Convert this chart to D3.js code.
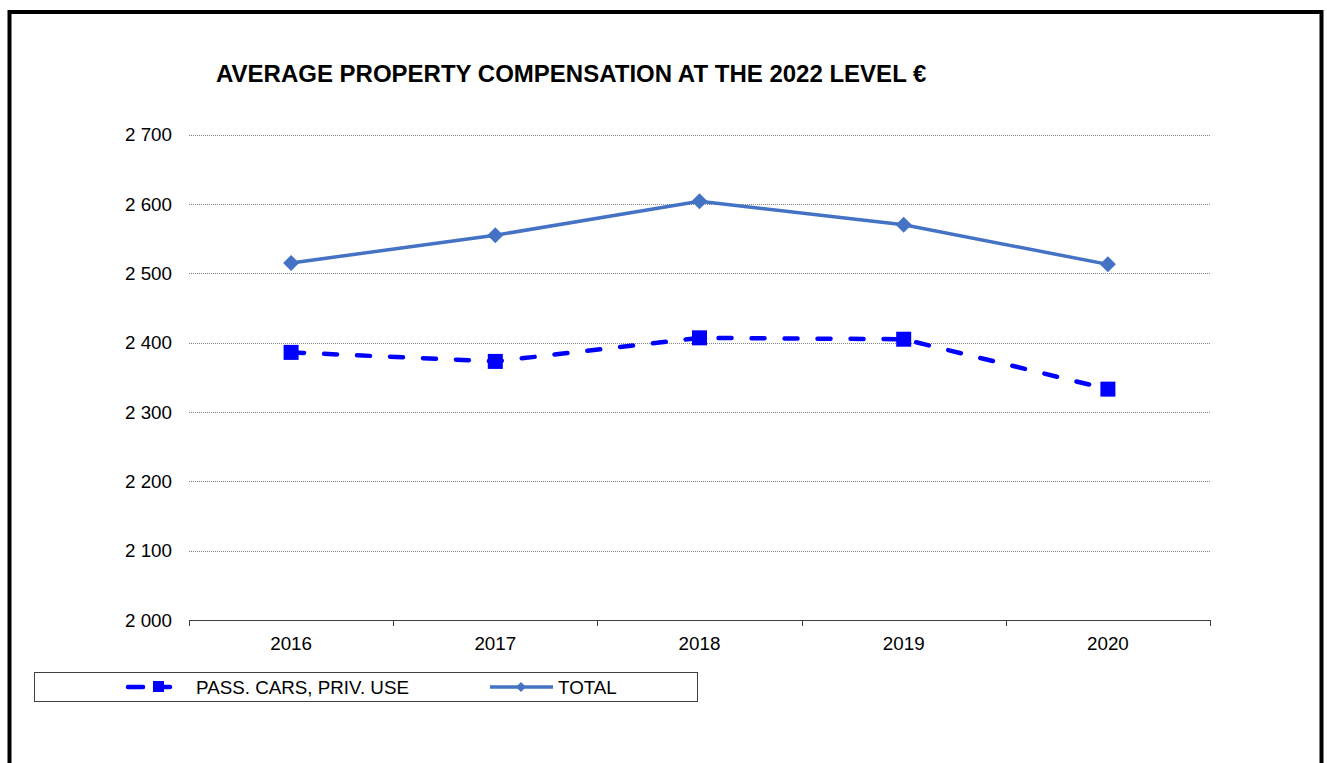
<!DOCTYPE html>
<html>
<head>
<meta charset="utf-8">
<script src="https://cdn.jsdelivr.net/npm/d3@7"></script>
<style>
  body { margin: 0; background: #fff; }
  svg { font-family: Arial, "Liberation Sans", sans-serif; }
</style>
</head>
<body>
<script>
// data
var years = ["2016", "2017", "2018", "2019", "2020"];
var passCars = [2386, 2373, 2407, 2405, 2333];
var total = [2515, 2555, 2604, 2570, 2513];
var yTicks = [2000, 2100, 2200, 2300, 2400, 2500, 2600, 2700];

var width = 1327, height = 763;
var fontSize = 18.8;

var svg = d3.select("body").append("svg")
  .attr("width", width)
  .attr("height", height);

// cornice esterna
svg.append("rect")
  .attr("x", 9.5).attr("y", 12)
  .attr("width", 1312).attr("height", 800)
  .attr("fill", "none")
  .attr("stroke", "#000")
  .attr("stroke-width", 4);

// titolo
svg.append("text")
  .attr("x", 216).attr("y", 82)
  .attr("font-size", 24)
  .attr("font-weight", "bold")
  .text("AVERAGE PROPERTY COMPENSATION AT THE 2022 LEVEL €");

var x = d3.scaleBand().domain(years).range([189, 1210]);
var y = d3.scaleLinear().domain([2000, 2700]).range([620, 134.7]);

// griglia orizzontale tratteggiata
svg.append("g").selectAll("line")
  .data(yTicks.filter(d => d > 2000))
  .enter().append("line")
  .attr("x1", 189).attr("x2", 1210)
  .attr("y1", d => Math.round(y(d)) + 0.5)
  .attr("y2", d => Math.round(y(d)) + 0.5)
  .attr("stroke", "#808080")
  .attr("stroke-width", 1)
  .attr("stroke-dasharray", "1,1");

// etichette asse y
svg.append("g").selectAll("text")
  .data(yTicks)
  .enter().append("text")
  .attr("x", 172)
  .attr("y", d => y(d))
  .attr("dy", "0.36em")
  .attr("text-anchor", "end")
  .attr("font-size", fontSize)
  .text(d => d3.format(",")(d).replace(",", " "));

// asse x
var xAxis = svg.append("g");
xAxis.append("line")
  .attr("x1", 189).attr("x2", 1210)
  .attr("y1", 620.5).attr("y2", 620.5)
  .attr("stroke", "#404040");
var bounds = years.map(d => x(d)).concat([x.range()[1]]);
xAxis.selectAll(".tick")
  .data(bounds)
  .enter().append("line")
  .attr("x1", d => Math.round(d) + 0.5)
  .attr("x2", d => Math.round(d) + 0.5)
  .attr("y1", 620).attr("y2", 626)
  .attr("stroke", "#404040");
xAxis.selectAll("text")
  .data(years)
  .enter().append("text")
  .attr("x", d => x(d) + x.bandwidth() / 2)
  .attr("y", 650)
  .attr("text-anchor", "middle")
  .attr("font-size", fontSize)
  .text(d => d);

var cx = (d, i) => x(years[i]) + x.bandwidth() / 2;
var line = d3.line().x(cx).y(d => y(d));

// serie TOTAL
svg.append("path")
  .datum(total)
  .attr("d", line)
  .attr("fill", "none")
  .attr("stroke", "#4472C4")
  .attr("stroke-width", 3.5);
svg.append("g").selectAll("path")
  .data(total)
  .enter().append("path")
  .attr("d", "M0,-8L8,0L0,8L-8,0Z")
  .attr("transform", (d, i) => "translate(" + cx(d, i) + "," + y(d) + ")")
  .attr("fill", "#4472C4");

// serie PASS. CARS
svg.append("path")
  .datum(passCars)
  .attr("d", line)
  .attr("fill", "none")
  .attr("stroke", "#0000FF")
  .attr("stroke-width", 4.5)
  .attr("stroke-linecap", "round")
  .attr("stroke-dasharray", "13,20");
svg.append("g").selectAll("rect")
  .data(passCars)
  .enter().append("rect")
  .attr("x", (d, i) => cx(d, i) - 7.5)
  .attr("y", d => y(d) - 7.5)
  .attr("width", 15).attr("height", 15)
  .attr("fill", "#0000FF");

// legenda
var legend = svg.append("g");
legend.append("rect")
  .attr("x", 34.5).attr("y", 672.5)
  .attr("width", 663).attr("height", 29)
  .attr("fill", "#fff")
  .attr("stroke", "#404040");
legend.append("line")
  .attr("x1", 128).attr("x2", 178)
  .attr("y1", 687).attr("y2", 687)
  .attr("stroke", "#0000FF")
  .attr("stroke-width", 4.5)
  .attr("stroke-linecap", "round")
  .attr("stroke-dasharray", "15,12");
legend.append("rect")
  .attr("x", 153).attr("y", 681)
  .attr("width", 11).attr("height", 11)
  .attr("fill", "#0000FF");
legend.append("text")
  .attr("x", 196).attr("y", 687)
  .attr("dy", "0.36em")
  .attr("font-size", fontSize)
  .text("PASS. CARS, PRIV. USE");
legend.append("line")
  .attr("x1", 490).attr("x2", 553)
  .attr("y1", 687).attr("y2", 687)
  .attr("stroke", "#4472C4")
  .attr("stroke-width", 3.5);
legend.append("path")
  .attr("d", "M0,-5L5,0L0,5L-5,0Z")
  .attr("transform", "translate(521,687)")
  .attr("fill", "#4472C4");
legend.append("text")
  .attr("x", 558).attr("y", 687)
  .attr("dy", "0.36em")
  .attr("font-size", fontSize)
  .text("TOTAL");
</script>
</body>
</html>
